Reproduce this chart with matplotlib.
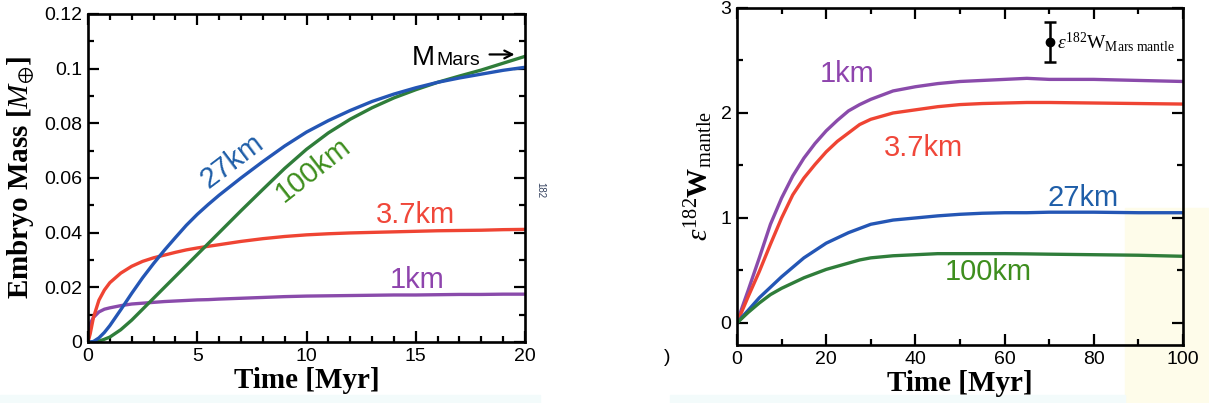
import numpy as np
import matplotlib
matplotlib.use("Agg")
import matplotlib.pyplot as plt
from matplotlib.ticker import MultipleLocator
from matplotlib.patches import Rectangle

plt.rcParams["font.family"] = ["Liberation Sans", "DejaVu Sans"]
plt.rcParams["mathtext.fontset"] = "custom"
plt.rcParams["mathtext.rm"] = "Liberation Serif"
plt.rcParams["mathtext.it"] = "Liberation Serif:italic"
plt.rcParams["mathtext.bf"] = "Liberation Serif:bold"
plt.rcParams["mathtext.fallback"] = "stix"

# --- left panel: embryo mass vs time (Myr) ---
t_mass = [0, 0.1, 0.25, 0.5, 0.75, 1, 1.5, 2, 2.5, 3, 3.5, 4, 4.5, 5, 5.5, 6,
          7, 8, 9, 10, 11, 12, 13, 14, 15, 16, 17, 18, 19, 20]
m_1km = [0, 0.0067, 0.009, 0.011, 0.012, 0.0125, 0.0133, 0.0139, 0.0142, 0.0145,
         0.0148, 0.015, 0.0152, 0.0154, 0.0155, 0.0157,
         0.016, 0.0163, 0.0166, 0.0168, 0.0169, 0.017, 0.0171, 0.0172, 0.0172,
         0.0173, 0.0174, 0.0174, 0.0175, 0.0175]
m_37km = [0, 0.003, 0.009, 0.0153, 0.019, 0.0217, 0.0252, 0.0277, 0.0295, 0.0308,
          0.0318, 0.0328, 0.0337, 0.0344, 0.035, 0.0356,
          0.0368, 0.0378, 0.0386, 0.0392, 0.0396, 0.0399, 0.0401, 0.0403, 0.0405,
          0.0407, 0.0408, 0.0409, 0.0411, 0.0412]
m_27km = [0, 0, 0.0002, 0.0015, 0.0035, 0.006, 0.0118, 0.0178, 0.0235, 0.0287,
          0.0336, 0.0382, 0.0427, 0.0467, 0.0503, 0.0537,
          0.0600, 0.0660, 0.0717, 0.0768, 0.081, 0.0847, 0.088, 0.0907, 0.093,
          0.095, 0.0966, 0.098, 0.0994, 0.1005]
m_100km = [0, 0, 0, 0.0003, 0.001, 0.0018, 0.0045, 0.008, 0.012, 0.016,
           0.020, 0.024, 0.028, 0.032, 0.036, 0.040,
           0.048, 0.0558, 0.0635, 0.0705, 0.0765, 0.0815, 0.0857, 0.0893, 0.0923,
           0.095, 0.0973, 0.0995, 0.102, 0.1045]

# --- right panel: epsilon 182W mantle vs time (Myr) ---
t_w = [0, 1, 2.5, 5, 7.5, 10, 12.5, 15, 17.5, 20, 22.5, 25, 27.5, 30, 35, 40, 45,
       50, 55, 60, 65, 70, 80, 90, 100]
w_1km = [0, 0.13, 0.31, 0.62, 0.94, 1.19, 1.40, 1.57, 1.71, 1.83, 1.93, 2.02, 2.08,
         2.13, 2.21, 2.25, 2.28, 2.30, 2.31, 2.32, 2.33, 2.32, 2.32, 2.31, 2.30]
w_37km = [0, 0.10, 0.25, 0.49, 0.75, 1.00, 1.22, 1.38, 1.51, 1.63, 1.73, 1.81, 1.89,
          1.94, 2.00, 2.03, 2.06, 2.08, 2.09, 2.095, 2.10, 2.10, 2.095, 2.09, 2.085]
w_27km = [0, 0.05, 0.12, 0.24, 0.34, 0.44, 0.53, 0.62, 0.69, 0.76, 0.81, 0.86, 0.90,
          0.94, 0.98, 1.00, 1.02, 1.035, 1.045, 1.05, 1.05, 1.055, 1.055, 1.05, 1.05]
w_100km = [0, 0.04, 0.10, 0.19, 0.27, 0.33, 0.38, 0.43, 0.47, 0.51, 0.54, 0.57, 0.60,
           0.62, 0.64, 0.65, 0.66, 0.66, 0.66, 0.66, 0.658, 0.655, 0.65, 0.645, 0.635]

mars_w, mars_w_err = 2.68, 0.19
mars_t = 70.2

line_cols = {"1km": "#8a4bab", "3.7km": "#ef4433", "27km": "#2456b5", "100km": "#2f7d3a"}
text_cols = {"1km": "#8e44ad", "3.7km": "#f0473a", "27km": "#1f5ea8", "100km": "#3e8e1e"}

fig = plt.figure(figsize=(12.09, 4.03), dpi=100)

# background tints
fig.patches.append(Rectangle((1125 / 1209, 0.0), 84 / 1209, 1 - 208 / 403,
                             transform=fig.transFigure, color="#fefcea", zorder=-10))
fig.patches.append(Rectangle((0.0, 0.0), 540 / 1209, 8 / 403,
                             transform=fig.transFigure, color="#f3fbfb", zorder=-10))
fig.patches.append(Rectangle((670 / 1209, 0.0), 455 / 1209, 8 / 403,
                             transform=fig.transFigure, color="#f3fbfb", zorder=-10))


def style_axes(ax):
    ax.set_facecolor("none")
    for s in ax.spines.values():
        s.set_linewidth(1.9)
    ax.tick_params(which="both", direction="in", top=True, right=True,
                   labelsize=14, width=1.6, pad=4)
    ax.tick_params(which="major", length=8)
    ax.tick_params(which="minor", length=4.5)


lw = 2.4
label_font = dict(family="Liberation Serif", fontweight="bold", fontsize=21)

ax1 = fig.add_axes([88 / 1209, 1 - 342 / 403, 437 / 1209, 328 / 403])
ax1.plot(t_mass, m_1km, color=line_cols["1km"], lw=lw)
ax1.plot(t_mass, m_37km, color=line_cols["3.7km"], lw=lw)
ax1.plot(t_mass, m_100km, color=line_cols["100km"], lw=lw)
ax1.plot(t_mass, m_27km, color=line_cols["27km"], lw=lw)
ax1.set_xlim(0, 20)
ax1.set_ylim(0, 0.12)
ax1.xaxis.set_major_locator(MultipleLocator(5))
ax1.xaxis.set_minor_locator(MultipleLocator(1))
ax1.yaxis.set_minor_locator(MultipleLocator(0.01))
ax1.set_yticks([0, 0.02, 0.04, 0.06, 0.08, 0.1, 0.12],
               ["0", "0.02", "0.04", "0.06", "0.08", "0.1", "0.12"])
style_axes(ax1)
ax1.set_xlabel("Time [Myr]", labelpad=2, **label_font)
ax1.set_ylabel(r"Embryo Mass [$\mathit{M}_{\oplus}$]", labelpad=6, **label_font)

ax1.text(6.6, 0.066, "27km", color=text_cols["27km"], fontsize=21, rotation=37,
         ha="center", va="center")
ax1.text(10.3, 0.063, "100km", color=text_cols["100km"], fontsize=21, rotation=38,
         ha="center", va="center")
ax1.text(15.0, 0.0465, "3.7km", color=text_cols["3.7km"], fontsize=21,
         ha="center", va="center")
ax1.text(15.05, 0.0225, "1km", color=text_cols["1km"], fontsize=21,
         ha="center", va="center")
ax1.text(14.8, 0.1013, "M", color="black", fontsize=20, ha="left", va="baseline")
ax1.text(15.95, 0.1013, "Mars", color="black", fontsize=14, ha="left", va="baseline")
ax1.annotate("", xy=(19.65, 0.1052), xytext=(18.25, 0.1052),
             arrowprops=dict(arrowstyle="->", color="black", lw=1.6,
                             mutation_scale=14))

ax2 = fig.add_axes([737 / 1209, 1 - 345 / 403, 446 / 1209, 337 / 403])
ax2.plot(t_w, w_1km, color=line_cols["1km"], lw=lw)
ax2.plot(t_w, w_37km, color=line_cols["3.7km"], lw=lw)
ax2.plot(t_w, w_27km, color=line_cols["27km"], lw=lw)
ax2.plot(t_w, w_100km, color=line_cols["100km"], lw=lw)
ax2.set_xlim(0, 100)
ax2.set_ylim(-0.21, 3)
ax2.xaxis.set_major_locator(MultipleLocator(20))
ax2.xaxis.set_minor_locator(MultipleLocator(10))
ax2.yaxis.set_major_locator(MultipleLocator(1))
ax2.yaxis.set_minor_locator(MultipleLocator(0.5))
style_axes(ax2)
ax2.set_xlabel("Time [Myr]", labelpad=2, **label_font)
ax2.set_ylabel(r"$\varepsilon^{182}\mathbf{W}_{\mathrm{mantle}}$", labelpad=4,
               fontsize=21)

ax2.text(24.6, 2.37, "1km", color=text_cols["1km"], fontsize=21, ha="center", va="center")
ax2.text(41.7, 1.67, "3.7km", color=text_cols["3.7km"], fontsize=21, ha="center", va="center")
ax2.text(77.5, 1.19, "27km", color=text_cols["27km"], fontsize=21, ha="center", va="center")
ax2.text(56.3, 0.49, "100km", color=text_cols["100km"], fontsize=21, ha="center", va="center")

ax2.errorbar([mars_t], [mars_w], yerr=[mars_w_err], fmt="o", color="black",
             markersize=6, capsize=4, elinewidth=1.8, capthick=1.8)
ax2.text(mars_t + 1.6, mars_w, r"$\varepsilon^{182}\mathrm{W}_{\mathrm{Mars\ mantle}}$",
         fontsize=14, ha="left", va="center")

# clipped fragments from neighbouring panels
fig.text(540 / 1209, 1 - 190 / 403, "182", fontsize=7, rotation=270,
         color="#33415e", ha="center", va="center")
fig.text(667 / 1209, 1 - 358 / 403, ")", fontsize=14, color="black",
         ha="center", va="center")

fig.savefig("out.png", dpi=100)
